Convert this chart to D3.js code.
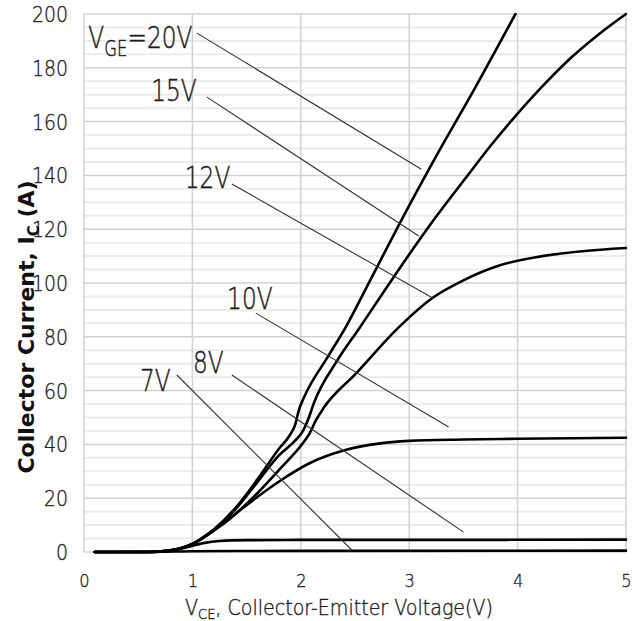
<!DOCTYPE html>
<html>
<head>
<meta charset="utf-8">
<script src="https://cdn.jsdelivr.net/npm/d3@7"></script>
<style>
  html, body { margin: 0; padding: 0; background: #fff; }
  svg { display: block; }
</style>
</head>
<body>
<svg id="chart" width="643" height="621"></svg>
<script>
// Output characteristics: collector current Ic (A) vs collector-emitter voltage Vce (V)
const curve20V = [[0.1,0],[0.6,0],[0.8,0.6],[1.0,3],[1.2,8.5],[1.4,16.5],[1.6,27],[1.8,38.5],[1.9,43.5],[1.95,47.5],[1.98,52.5],[2.03,57.5],[2.25,72.6],[2.42,84],[2.64,101],[2.91,122],[3.28,149.4],[3.6,172],[3.98,200]];
const curve15V = [[0.1,0],[0.6,0],[0.8,0.6],[1.0,3],[1.2,8.3],[1.4,16],[1.6,26],[1.8,36],[1.95,41.5],[2.02,45],[2.07,49.5],[2.12,55.3],[2.34,71.4],[2.54,83.2],[2.87,103],[3.2,122],[3.53,139.5],[3.76,151.5],[3.99,162.5],[4.25,174],[4.5,184],[4.75,192.5],[5.0,200]];
const curve12V = [[0.1,0],[0.6,0],[0.8,0.6],[1.0,3],[1.2,8],[1.35,12.5],[1.56,20.3],[1.81,31],[2.02,40.5],[2.08,44],[2.14,49],[2.21,53.5],[2.51,66.4],[2.91,83.8],[3.22,94.6],[3.5,101],[3.83,106.5],[4.2,109.8],[4.6,111.8],[5.0,113]];
const curve10V = [[0.1,0],[0.6,0],[0.8,0.6],[1.0,3],[1.1,5.5],[1.31,11.5],[1.56,19.3],[1.81,26.5],[2.08,33],[2.42,38],[2.7,40.2],[3.0,41.3],[3.5,41.8],[4.0,42.1],[5.0,42.5]];
const curve8V  = [[0.1,0],[0.6,0],[0.8,0.5],[0.95,1.8],[1.1,3.3],[1.25,4.1],[1.5,4.4],[2.0,4.5],[3.0,4.5],[5.0,4.6]];
const curve7V  = [[0.1,0],[0.7,0.1],[1.0,0.3],[2.0,0.4],[5.0,0.5]];

const gateSeries = [curve20V, curve15V, curve12V, curve10V, curve8V, curve7V];

// Tick values
const xTicks = [0, 1, 2, 3, 4, 5];
const yTicks = [0, 20, 40, 60, 80, 100, 120, 140, 160, 180, 200];
const yMinorTicks = d3.range(5, 200, 5).filter(v => v % 20 !== 0);

// Gate-voltage labels: text, anchor [Vce, Ic], leader from [Vce, Ic] to [Vce, Ic]
const labelText   = ["20V", "15V", "12V", "10V", "8V", "7V"];
const labelAnchor = [[0.04,187.5],[0.62,167.5],[0.93,135.5],[1.32,90.5],[1.005,66.5],[0.516,59.8]];
const leaderFrom  = [[1.041,192.9],[1.134,169.1],[1.364,136.8],[1.585,88.8],[1.364,65.8],[0.857,65.8]];
const leaderTo    = [[3.112,142.3],[3.088,117.5],[3.217,94.4],[3.364,46.5],[3.502,7.4],[2.47,0.74]];

const svg = d3.select("#chart");
const x = d3.scaleLinear().domain([0, 5]).range([84, 626]);
const y = d3.scaleLinear().domain([0, 200]).range([552, 14]);

const lightFont = "'DejaVu Sans ExtraLight', 'DejaVu Sans', sans-serif";
const textColor = "#1e1e1e";

// Thin-weight text, slightly thickened with a matching outline
function lightText(sel, outline) {
  return sel.attr("font-family", lightFont).attr("font-weight", 200)
    .attr("fill", textColor).attr("stroke", textColor)
    .attr("stroke-width", outline).attr("paint-order", "stroke");
}

// Grid: minor lines every 5 A, major every 20 A, verticals every volt
const grid = svg.append("g");
grid.selectAll("line.minor").data(yMinorTicks).join("line")
  .attr("x1", x(0)).attr("x2", x(5))
  .attr("y1", d => y(d)).attr("y2", d => y(d))
  .attr("stroke", "#ebebeb").attr("stroke-width", 2);
grid.selectAll("line.major").data(yTicks).join("line")
  .attr("x1", x(0)).attr("x2", x(5))
  .attr("y1", d => y(d)).attr("y2", d => y(d))
  .attr("stroke", "#d2d2d2").attr("stroke-width", 1.5);
grid.selectAll("line.vert").data(xTicks).join("line")
  .attr("x1", d => x(d)).attr("x2", d => x(d))
  .attr("y1", y(0)).attr("y2", y(200))
  .attr("stroke", "#d2d2d2").attr("stroke-width", 1.5);

// Axes (labels only; domain and tick marks hidden)
const xAxis = svg.append("g")
  .attr("transform", `translate(0,${y(0)})`)
  .call(d3.axisBottom(x).tickValues(xTicks).tickSize(0).tickPadding(0).tickFormat(d3.format("d")));
xAxis.select(".domain").remove();
lightText(xAxis.selectAll("text"), 0.35)
  .attr("font-size", 18)
  .attr("dy", null).attr("y", 35)
  .attr("transform", "scale(0.9,1)");

const yAxis = svg.append("g")
  .attr("transform", `translate(${x(0)},0)`)
  .call(d3.axisLeft(y).tickValues(yTicks).tickSize(0).tickPadding(0).tickFormat(d3.format("d")));
yAxis.select(".domain").remove();
lightText(yAxis.selectAll("text"), 0.35)
  .attr("font-size", 21)
  .attr("x", -16 / 0.9).attr("dy", "0.36em")
  .attr("transform", "scale(0.9,1)");

// Curves
const line = d3.line()
  .x(d => x(d[0])).y(d => y(d[1]))
  .curve(d3.curveMonotoneX);
svg.append("g").selectAll("path").data(gateSeries).join("path")
  .attr("d", line)
  .attr("fill", "none").attr("stroke", "#000")
  .attr("stroke-width", 2.6).attr("stroke-linejoin", "round").attr("stroke-linecap", "round");

// Leader lines
svg.append("g").selectAll("line").data(leaderFrom).join("line")
  .attr("x1", d => x(d[0])).attr("y1", d => y(d[1]))
  .attr("x2", (d, i) => x(leaderTo[i][0])).attr("y2", (d, i) => y(leaderTo[i][1]))
  .attr("stroke", "#333").attr("stroke-width", 1.1);

// Gate-voltage labels (condensed)
const labels = svg.append("g");
labelText.forEach((txt, i) => {
  const g = labels.append("g")
    .attr("transform", `translate(${x(labelAnchor[i][0])},${y(labelAnchor[i][1])}) scale(0.75,1)`);
  const t = lightText(g.append("text"), 0.5).attr("font-size", 31);
  if (i === 0) {
    t.append("tspan").text("V");
    t.append("tspan").attr("font-size", 22).attr("dy", 8).text("GE");
    t.append("tspan").attr("dy", -8).text("=" + txt);
  } else {
    t.text(txt);
  }
});

// X axis title
const xt = lightText(
  svg.append("g").attr("transform", `translate(185,615) scale(0.93,1)`).append("text"), 0.4)
  .attr("font-size", 20.5);
xt.append("tspan").text("V");
xt.append("tspan").attr("font-size", 14).attr("dy", 4).text("CE");
xt.append("tspan").attr("dy", -4).text(", Collector-Emitter Voltage(V)");

// Y axis title (bold, rotated)
const yt = svg.append("text")
  .attr("transform", "translate(34,327) rotate(-90)")
  .attr("text-anchor", "middle")
  .attr("font-family", "'DejaVu Sans', sans-serif")
  .attr("font-weight", "bold").attr("font-size", 22).attr("fill", "#111");
yt.append("tspan").text("Collector Current, I");
yt.append("tspan").attr("font-size", 15).attr("dy", 5).text("C");
yt.append("tspan").attr("dy", -5).text(" (A)");
</script>
</body>
</html>
